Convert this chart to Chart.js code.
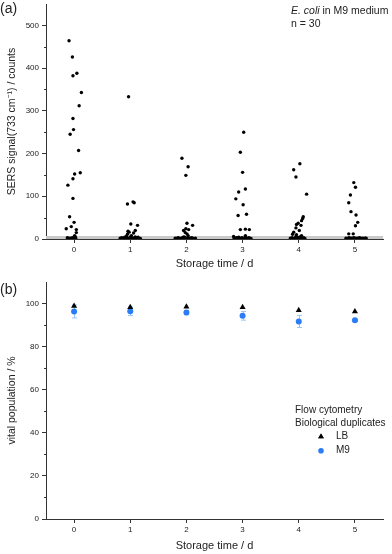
<!DOCTYPE html>
<html>
<head>
<meta charset="utf-8">
<script src="https://cdn.jsdelivr.net/npm/chart.js@4"></script>
<style>
  body { margin: 0; background: #fff; font-family: "Liberation Sans", Arial, sans-serif; color: #222; }
  #wrap { position: relative; width: 392px; height: 554px; overflow: hidden; }
  canvas { position: absolute; left: 0; }
  .lbl { position: absolute; white-space: nowrap; line-height: 1; }
</style>
</head>
<body>
<div id="wrap">
  <canvas id="sers" width="392" height="272" style="top:0"></canvas>
  <canvas id="vital" width="392" height="282" style="top:272px"></canvas>
  <div class="lbl" style="left:0;top:1px;font-size:14px">(a)</div>
  <div class="lbl" style="left:0;top:282px;font-size:14px">(b)</div>
  <div class="lbl" style="left:291px;top:5px;font-size:10.5px"><i>E. coli</i> in M9 medium</div>
  <div class="lbl" style="left:291px;top:18px;font-size:10.5px">n = 30</div>
  <div class="lbl" style="left:295px;top:405px;font-size:10px">Flow cytometry</div>
  <div class="lbl" style="left:295px;top:418px;font-size:10px">Biological duplicates</div>
  <div class="lbl" style="left:336px;top:431px;font-size:10px">LB</div>
  <div class="lbl" style="left:336px;top:445px;font-size:10px">M9</div>
</div>
<script>
// storage days (x categories) and tick labels
const days = [0, 1, 2, 3, 4, 5];

// SERS signal at 733 cm-1, 30 cells per day, with the horizontal jitter (in days) of each dot
const sersDay0 = [464, 426, 388, 382, 343, 312, 282, 256, 245, 207, 155, 152, 141, 126, 95, 52, 39, 29, 24, 22, 15, 8,
  3, 2, 2, 3, 1, 4, 2, 5];
const jitterDay0 = [-0.09, -0.03, 0.05, -0.02, 0.13, 0.09, -0.02, -0.01, -0.07, 0.08, 0.11, 0.01, -0.02, -0.11, -0.02, -0.08, 0, -0.05, -0.14, 0.04, 0.04, 0.01,
  -0.12, -0.09, -0.06, -0.03, -0.01, 0.01, 0.03, 0.02];

const sersDay1 = [333, 87, 85, 82, 35, 32, 20, 18, 16, 14, 11, 8, 6, 5,
  2, 3, 1, 4, 2, 3, 1, 2, 4, 3, 2, 1, 3, 2, 4, 1];
const jitterDay1 = [-0.03, 0.05, 0.07, -0.05, 0.01, 0.13, 0.09, -0.04, -0.02, 0.06, -0.05, 0.02, -0.07, 0.09,
  -0.18, -0.15, -0.12, -0.1, -0.08, -0.06, -0.04, -0.02, 0, 0.02, 0.04, 0.06, 0.08, 0.11, 0.14, 0.18];

const sersDay2 = [189, 169, 149, 37, 32, 24, 22, 20, 15, 12, 8, 5,
  2, 1, 3, 2, 1, 2, 3, 1, 4, 2, 1, 3, 2, 1, 3, 2, 1, 2];
const jitterDay2 = [-0.08, 0.03, -0.01, 0.01, 0.11, -0.01, 0.04, -0.05, -0.02, 0.01, 0.03, -0.05,
  -0.2, -0.17, -0.15, -0.13, -0.11, -0.09, -0.07, -0.05, -0.03, -0.01, 0.01, 0.03, 0.05, 0.07, 0.09, 0.11, 0.13, 0.16];

const sersDay3 = [250, 203, 156, 117, 110, 94, 80, 58, 55, 23, 22, 22, 8, 6,
  2, 1, 3, 2, 4, 1, 2, 3, 1, 2, 4, 2, 1, 3, 2, 1];
const jitterDay3 = [0.02, -0.04, 0, 0.05, -0.07, -0.12, 0.01, 0.07, -0.08, 0.05, -0.04, 0.12, 0.05, -0.16,
  -0.15, -0.13, -0.11, -0.09, -0.07, -0.05, -0.03, -0.01, 0.01, 0.03, 0.05, 0.07, 0.09, 0.11, 0.13, 0.15];

const sersDay4 = [176, 162, 145, 105, 52, 48, 43, 37, 34, 32, 26, 20, 16, 11, 10, 8, 6, 5,
  2, 3, 1, 2, 4, 1, 3, 2, 1, 2, 3, 1];
const jitterDay4 = [0.02, -0.09, -0.05, 0.14, 0.08, 0.07, 0.05, -0.01, -0.04, 0.04, -0.05, 0.01, -0.09, -0.11, -0.04, 0.05, -0.05, 0.02,
  -0.15, -0.12, -0.1, -0.07, -0.05, -0.03, -0.01, 0.01, 0.04, 0.06, 0.09, 0.11];

const sersDay5 = [132, 121, 103, 85, 64, 56, 39, 31, 12, 12,
  2, 1, 2, 3, 1, 2, 1, 3, 2, 1, 2, 1, 3, 2, 1, 2, 1, 2, 1, 2];
const jitterDay5 = [-0.02, 0.01, -0.08, -0.11, -0.07, 0.02, 0.05, 0.01, -0.11, -0.03,
  -0.16, -0.14, -0.12, -0.1, -0.08, -0.06, -0.04, -0.02, 0, 0.02, 0.04, 0.06, 0.08, 0.1, 0.12, 0.14, 0.16, 0.18, 0.19, 0.2];

// grey band near zero (background level)
const sersBackground = 7;

// flow cytometry, vital population in %
const lbVital = [98.9, 98.3, 98.5, 98.3, 96.9, 96.3];
const m9Vital = [96.3, 96.4, 95.8, 94.3, 91.7, 92.2];
const m9Error = [3.0, 2.0, 1.0, 2.0, 2.8, 0.5];

const sersTicks = [0, 100, 200, 300, 400, 500];
const sersMinor = [50, 150, 250, 350, 450];
const vitalTicks = [0, 20, 40, 60, 80, 100];
const vitalMinor = [10, 30, 50, 70, 90];

Chart.defaults.font.family = '"Liberation Sans", Arial, sans-serif';
Chart.defaults.color = '#222';

const axisColor = '#333';

const sersDays = [sersDay0, sersDay1, sersDay2, sersDay3, sersDay4, sersDay5];
const sersJitter = [jitterDay0, jitterDay1, jitterDay2, jitterDay3, jitterDay4, jitterDay5];
const sersPoints = [];
sersDays.forEach((vals, i) => {
  vals.forEach((v, j) => sersPoints.push({ x: days[i] + sersJitter[i][j], y: v }));
});

// small outward minor ticks on the y axis
function minorTicks(values) {
  return {
    id: 'minorTicks',
    afterDraw(chart) {
      const y = chart.scales.y;
      const ctx = chart.ctx;
      ctx.save();
      ctx.strokeStyle = axisColor;
      ctx.lineWidth = 1;
      values.forEach(v => {
        const py = Math.round(y.getPixelForValue(v)) + 0.5;
        ctx.beginPath();
        ctx.moveTo(y.right - 2, py);
        ctx.lineTo(y.right, py);
        ctx.stroke();
      });
      ctx.restore();
    },
  };
}

function xScale(height, title) {
  return {
    type: 'linear',
    min: -0.5,
    max: 5.5,
    afterBuildTicks: s => { s.ticks = days.map(v => ({ value: v })); },
    afterFit: s => { s.height = height; s.paddingLeft = 0; s.paddingRight = 0; },
    grid: { drawOnChartArea: false, tickLength: 4, color: axisColor },
    border: { color: axisColor, width: 1 },
    ticks: { font: { size: 8 }, color: '#222', padding: 2 },
    title: { display: true, text: title, font: { size: 11 }, color: '#222', padding: { top: 0, bottom: 1 } },
  };
}

function yScale(max, ticks, title) {
  return {
    min: 0,
    max,
    afterBuildTicks: s => { s.ticks = ticks.map(v => ({ value: v })); },
    afterFit: s => { s.width = 46; s.paddingTop = 0; s.paddingBottom = 0; },
    grid: { drawOnChartArea: false, tickLength: 4, color: axisColor },
    border: { color: axisColor, width: 1 },
    ticks: { font: { size: 8 }, color: '#222', padding: 3 },
    title: { display: true, text: title, font: { size: 10.5 }, color: '#222', padding: { top: 6, bottom: 0 } },
  };
}

new Chart(document.getElementById('sers'), {
  type: 'scatter',
  data: {
    datasets: [
      {
        label: 'SERS',
        data: sersPoints,
        pointStyle: 'circle',
        pointRadius: 1.7,
        pointBorderWidth: 0,
        backgroundColor: '#000',
        order: 1,
      },
      {
        label: 'background',
        type: 'line',
        data: [{ x: -0.5, y: sersBackground }, { x: 5.5, y: sersBackground }],
        fill: 'origin',
        backgroundColor: '#c9c9c9',
        borderWidth: 0,
        pointRadius: 0,
        order: 2,
      },
    ],
  },
  options: {
    responsive: false,
    animation: false,
    devicePixelRatio: 1,
    layout: { padding: { top: 1, right: 9, left: 0, bottom: 0 } },
    plugins: { legend: { display: false }, tooltip: { enabled: false } },
    scales: {
      x: xScale(33, 'Storage time / d'),
      y: yScale(550, sersTicks, 'SERS signal(733 cm\u207B\u00B9) / counts'),
    },
  },
  plugins: [minorTicks(sersMinor)],
});

// error bars for the M9 points plus the little legend markers
const vitalExtras = {
  id: 'vitalExtras',
  beforeDatasetsDraw(chart) {
    const { x, y } = chart.scales;
    const ctx = chart.ctx;
    ctx.save();
    ctx.strokeStyle = '#9cc4f4';
    ctx.lineWidth = 1;
    m9Vital.forEach((v, i) => {
      const px = Math.round(x.getPixelForValue(days[i])) + 0.5;
      const top = y.getPixelForValue(v + m9Error[i]);
      const bot = y.getPixelForValue(v - m9Error[i]);
      ctx.beginPath();
      ctx.moveTo(px, top); ctx.lineTo(px, bot);
      ctx.moveTo(px - 2.5, top); ctx.lineTo(px + 2.5, top);
      ctx.moveTo(px - 2.5, bot); ctx.lineTo(px + 2.5, bot);
      ctx.stroke();
    });
    ctx.restore();
  },
  afterDraw(chart) {
    const ctx = chart.ctx;
    Chart.helpers.drawPoint(ctx, { pointStyle: 'triangle', radius: 3.3, borderWidth: 0, rotation: 0 }, 321, 164.7);
    ctx.fillStyle = '#000';
    ctx.fill();
    ctx.beginPath();
    ctx.arc(321, 178.7, 2.8, 0, Math.PI * 2);
    ctx.fillStyle = '#2b7cf6';
    ctx.fill();
  },
};

new Chart(document.getElementById('vital'), {
  type: 'scatter',
  data: {
    datasets: [
      {
        label: 'LB',
        data: lbVital.map((v, i) => ({ x: days[i], y: v })),
        pointStyle: 'triangle',
        pointRadius: 3.5,
        pointBorderWidth: 0,
        backgroundColor: '#000',
      },
      {
        label: 'M9',
        data: m9Vital.map((v, i) => ({ x: days[i], y: v })),
        pointStyle: 'circle',
        pointRadius: 3,
        pointBorderWidth: 0,
        backgroundColor: '#2b7cf6',
      },
    ],
  },
  options: {
    responsive: false,
    animation: false,
    devicePixelRatio: 1,
    layout: { padding: { top: 10, right: 9, left: 0, bottom: 0 } },
    plugins: { legend: { display: false }, tooltip: { enabled: false } },
    scales: {
      x: xScale(35, 'Storage time / d'),
      y: yScale(110, vitalTicks, 'vital population / %'),
    },
  },
  plugins: [minorTicks(vitalMinor), vitalExtras],
});
</script>
</body>
</html>
